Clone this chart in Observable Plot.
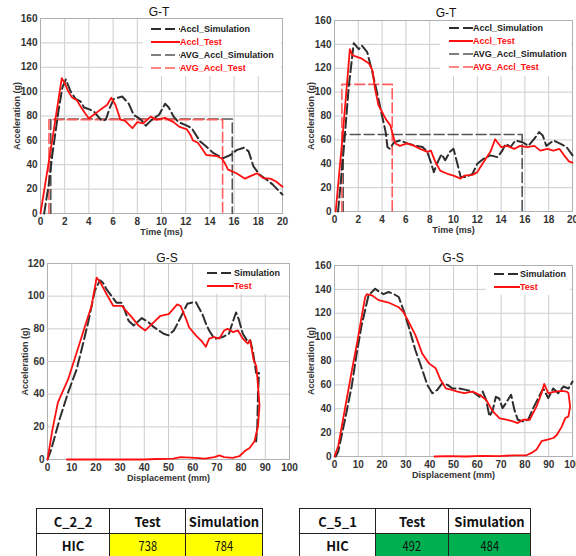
<!DOCTYPE html>
<html><head><meta charset="utf-8">
<script src="https://cdn.jsdelivr.net/npm/d3@7"></script>
<script src="https://cdn.jsdelivr.net/npm/@observablehq/plot@0.6"></script>
<style>
body{margin:0;background:#fff;}
#wrap{position:relative;width:576px;height:556px;overflow:hidden;background:#fff;font-family:"Liberation Sans",Arial,sans-serif;}
.panel{position:absolute;}
.panel svg{max-width:none !important;display:block;}
.ttl{position:absolute;font-size:12px;color:#111;transform:translate(-50%,-50%);white-space:nowrap;}
.leg{position:absolute;background:#fff;font-size:9px;font-weight:bold;}
.leg .row{position:absolute;left:0;height:12px;display:flex;align-items:center;white-space:nowrap;}
.leg svg{display:block;}
table{position:absolute;border-collapse:collapse;table-layout:fixed;font-family:"Noto Sans CJK KR","Noto Sans",sans-serif;}
td{border:1px solid #222;text-align:center;padding:0;font-size:13px;color:#111;}
td.h{font-weight:bold;}
td span{display:inline-block;transform:scaleX(.85);}
</style></head>
<body>
<div id="wrap"></div>
<script>
// ---------- data ----------
const gtTicks = [0,2,4,6,8,10,12,14,16,18,20];
const gtYTicks = [0,20,40,60,80,100,120,140,160];
const gs1YTicks = [0,20,40,60,80,100,120];
const gsTicks = [0,10,20,30,40,50,60,70,80,90,100];

// Panel 1: G-T (C_2_2)  [time ms, accel g]
const gt1Test = [[0,0],[0.5,31],[1.0,62],[1.4,88],[1.76,111],[2.0,107],[2.3,100],[2.63,95],[3.0,93],[3.3,88],[3.7,82],[4.0,78],[4.4,81],[4.8,84],[5.2,87],[5.5,89],[5.85,95],[6.2,89],[6.6,77],[7.0,76],[7.3,73],[7.6,70],[8.0,75],[8.5,74],[9.1,79.5],[9.6,77],[10.3,78.5],[11.0,75],[11.5,71],[12.1,69],[12.4,64.5],[12.6,60],[13.0,58],[13.3,54],[13.7,48],[14.2,47.5],[14.6,47],[15.0,45],[15.25,41],[15.5,36],[16.2,33],[16.9,28.6],[17.3,30.5],[17.9,33],[18.4,29],[19.0,28.6],[19.5,26],[20,22]];
const gt1Sim = [[0.3,0],[0.7,25],[1.0,50],[1.5,85],[1.8,103],[2.09,110],[2.5,100],[2.9,94],[3.3,92],[3.6,87],[3.9,86],[4.4,84],[4.8,79],[5.1,76],[5.4,77],[5.7,86],[6.06,94],[6.4,95],[6.75,96],[7.3,90],[7.7,81],[8.3,77],[8.7,72],[9.1,76],[9.5,79],[9.8,81],[10.3,90],[10.6,87],[11.0,79.5],[11.4,75],[12.0,72.5],[12.5,70],[13.2,59],[13.7,55],[14.3,49.5],[15.1,45.4],[15.7,48],[16.2,52],[16.8,54],[17.2,51],[17.6,38.6],[18.1,32],[18.7,27.7],[19.2,23.7],[20,15.5]];
const gt1AvgSimT = [0.85, 15.85], gt1AvgSimA = 77.5;
const gt1AvgTestT = [0.7, 15.05], gt1AvgTestA = 77;

// Panel 2: G-T (C_5_1)
const gt2Test = [[0.1,0],[0.7,65],[1.29,136],[1.5,131],[1.76,130],[2.3,128],[2.9,124],[3.2,118],[3.4,103],[3.7,89],[4.3,77.6],[4.7,72],[5.1,57],[5.5,55],[6.1,57],[6.7,55],[7.2,52.5],[7.8,50],[8.1,51],[8.5,41],[8.9,34],[9.5,31.6],[10,30],[10.6,27.5],[10.9,30],[11.6,30.7],[12,33],[12.5,41],[13.1,50],[13.5,60.5],[14,54],[14.5,55],[15.1,52.5],[15.6,55],[16.2,54],[16.8,55],[17.3,51],[17.9,52.5],[18.4,51],[18.9,52.5],[19.3,47],[19.7,42],[20,41]];
const gt2Sim = [[0.3,0],[0.8,55],[1.2,105],[1.62,141],[2.04,136],[2.3,139],[2.75,133.5],[3.17,117],[3.6,98.6],[4.0,80],[4.3,66.5],[4.45,54],[4.65,52.5],[5.0,58],[5.5,59.5],[6.2,56.7],[6.9,55],[7.4,54],[7.8,50],[8.1,41],[8.35,33],[8.6,40],[9.0,48],[9.3,43],[9.7,50],[10.0,52.5],[10.3,41],[10.6,29],[11.1,29],[11.6,31.6],[12.0,40],[12.5,44],[13.1,47],[13.7,45.5],[14.1,51],[14.4,56.7],[14.8,54],[15.2,59.5],[15.8,58],[16.3,55],[16.8,61],[17.2,66.5],[17.5,63.7],[17.8,55],[18.4,59.5],[19.0,56.7],[19.5,54],[20,47]];
const gt2AvgSimT = [0.73, 15.77], gt2AvgSimA = 64.5;
const gt2AvgTestT = [0.62, 4.85], gt2AvgTestA = 106.5;

// Panel 3: G-S (C_2_2) [displacement mm, accel g]
const gs1Test = [[0,0],[2,18],[4.3,35],[8.5,49],[12.6,68],[16,84],[18.2,94],[20.3,111.4],[22,108],[24.5,101],[27.2,94],[30.7,94],[32.5,91],[34.9,87],[37.6,82],[40.4,79],[43.2,83],[46.7,88],[50.1,89],[53.6,95],[55,94],[57,87],[58.5,81],[61.3,76],[64,72],[65.4,69],[66.8,74],[68.9,75],[71,74],[73,79],[74.4,80],[76.7,78],[78.7,79],[80.7,74],[82.8,71],[83.75,73],[85.1,61.5],[86.3,57],[87,45],[87.6,33],[87,20.5],[85.5,11],[83.5,7],[81.4,5],[79.3,2],[76.5,1],[73,1.5],[71,2.5],[69,1.5],[65,0.5],[61,1],[55,1.5],[52,0.5],[45,0.3],[40,0],[20,0],[8,0]];
const gs1Sim = [[0,0],[1.5,6],[5,24.6],[8.5,41],[12,55],[14.7,71],[16.8,84],[19.6,103.6],[21.7,109.7],[23,108],[24.5,104],[26.5,100],[28.5,96],[30.7,96],[32,91],[33.5,85],[35.6,82],[37,84],[39,86.6],[41.8,84],[44,81],[46,79],[48,77],[50,76],[52.2,79],[54,84],[55.7,89],[57.8,95.4],[59.5,96],[61.3,96.4],[62.5,93],[64,89],[65.5,83],[66.8,79],[68.5,75],[69.6,74],[72.4,75],[75,77],[76.5,84],[77.9,90],[79,86],[80.7,77],[82.8,72],[83.75,73],[84.9,66],[86.2,53],[87.4,53],[87,41],[86.7,20.5],[86.2,11]];

// Panel 4: G-S (C_5_1)
const gs2Test = [[0,0],[1.6,9],[4.4,40],[7.2,71],[9.3,93],[11.4,117],[12.9,133.6],[13.6,136],[15.7,135],[18.5,131],[22.7,129],[27,125],[29,121],[31.2,112.8],[34,101.7],[36.9,86],[39.7,78],[42.5,74],[44.6,64],[46.8,57],[48.9,56],[51.7,54.4],[54.5,53],[58,54.4],[60.9,51.7],[63.7,47.5],[66.5,37.8],[69.4,32],[72.2,30.8],[75,29.4],[77,28],[79.2,30.8],[82,30.8],[84.9,42],[87,53],[88.1,60.8],[89.8,53],[92.7,54.4],[95.5,55],[97.6,54.4],[98.3,53],[99,42],[98.3,33.6],[96.9,32],[95.5,25],[93.4,18],[92,15.5],[89.1,14],[87,12.8],[84.9,5.8],[82.8,3],[80.6,1],[75,1],[69.4,0.3],[62,0.5],[55,0],[48,0.3],[42,0]];
const gs2Sim = [[0.5,0],[1.6,4.4],[4.4,30.8],[7.2,58.6],[9.3,86],[11.4,110],[14.3,135],[17.1,140.5],[18.8,138],[20.6,136],[22.7,137.8],[25,136],[27,133.6],[29,122.5],[31.2,108.6],[34,89],[36.9,72.5],[39,60],[41.1,53],[43.2,55.8],[45.3,61.4],[47.5,60],[49.6,57],[52.4,57],[55.2,55.8],[58,54.4],[60.9,50],[62.3,54.4],[63.7,47.5],[65.1,33.6],[66.5,39],[67.8,50],[69.2,48.6],[70.6,40.5],[72,44.7],[74.2,51.7],[75.6,39],[77,30.8],[79.2,29.4],[81.4,30.8],[83.5,40.5],[85.6,48.9],[87.7,57],[89.8,48.9],[91.9,57],[94,53],[96.2,58.6],[98.3,57],[100,62.8]];

// Tables
const tableNames = ["C_2_2", "C_5_1"];
const tableHeads = ["Test", "Simulation"];
const hicTest = [738, 492];
const hicSim = [784, 484];

// ---------- styles ----------
const RED = "#ff1010", RED_AVG = "#ff5c5c", SIM = "#2e2e2e", SIM_AVG = "#555";
const DASH = "10,4";

const wrap = document.getElementById("wrap");

function avgBox(t, a) {
  return [[t[0],0],[t[0],a],[t[1],a],[t[1],0]];
}

function chart(o) {
  const marks = [
    Plot.gridX(o.xt, {stroke: "#cdcdcd", strokeOpacity: 1}),
    Plot.gridY(o.yt, {stroke: "#cdcdcd", strokeOpacity: 1}),
    Plot.frame({stroke: "#b0b0b0"})
  ];
  for (const s of o.series) {
    marks.push(Plot.line(s.data, {x: d => d[0], y: d => d[1], stroke: s.color, strokeWidth: s.w, strokeDasharray: s.dash || null, curve: "linear"}));
  }
  const p = Plot.plot({
    width: o.w, height: o.h,
    marginLeft: o.ml, marginRight: o.mr, marginTop: o.mt, marginBottom: o.mb,
    style: {fontFamily: "Liberation Sans, Arial, sans-serif", fontSize: "10px", fontWeight: "bold", color: "#333", background: "transparent", overflow: "visible"},
    x: {domain: o.xd, ticks: o.xt, tickSize: 0, tickPadding: 4, label: o.xl, labelArrow: "none", labelAnchor: "center", labelOffset: o.xlo},
    y: {domain: o.yd, ticks: o.yt, tickSize: 0, tickPadding: 3, label: "Acceleration (g)", labelArrow: "none", labelAnchor: "center", labelOffset: o.ylo},
    marks
  });
  const labs = d3.select(p).selectAll('[aria-label="x-axis label"], [aria-label="y-axis label"]');
  labs.style("font-size", "9px");
  labs.selectAll("text").each(function() { this.textContent = this.textContent.replace(/[\u2190-\u2193]/g, "").trim(); });
  p.style.maxWidth = "none";
  const div = document.createElement("div");
  div.className = "panel";
  div.style.left = o.left + "px";
  div.style.top = o.top + "px";
  div.style.width = o.w + "px";
  div.style.height = o.h + "px";
  div.appendChild(p);
  wrap.appendChild(div);

  const t = document.createElement("div");
  t.className = "ttl";
  t.textContent = o.title;
  t.style.left = o.tx + "px";
  t.style.top = o.ty + "px";
  wrap.appendChild(t);

  const lg = document.createElement("div");
  lg.className = "leg";
  Object.assign(lg.style, {left: o.lg.x + "px", top: o.lg.y + "px", width: o.lg.w + "px", height: o.lg.h + "px"});
  o.lg.items.forEach((it, i) => {
    const r = document.createElement("div");
    r.className = "row";
    r.style.top = o.lg.rows[i] + "px";
    r.style.left = o.lg.off + "px";
    r.innerHTML = `<svg width="${o.lg.lw}" height="12"><line x1="0" x2="${o.lg.lw}" y1="6" y2="6" stroke="${it.color}" stroke-width="${it.w}" ${it.dash ? `stroke-dasharray="${it.dash}"` : ""}/></svg><span style="color:${it.tc}">${it.label}</span>`;
    lg.appendChild(r);
  });
  wrap.appendChild(lg);
}

const simS = d => ({data: d, color: SIM, w: 2, dash: DASH});
const testS = d => ({data: d, color: RED, w: 1.8});
const avgSimS = d => ({data: d, color: SIM_AVG, w: 1.6, dash: DASH});
const avgTestS = d => ({data: d, color: RED_AVG, w: 1.6, dash: DASH});

const gtLegend = [
  {label: "Accl_Simulation", color: SIM, w: 2, dash: "10,4", tc: "#222"},
  {label: "Accl_Test", color: RED, w: 2, tc: RED},
  {label: "AVG_Accl_Simulation", color: SIM_AVG, w: 1.6, dash: "10,4", tc: "#222"},
  {label: "AVG_Accl_Test", color: RED_AVG, w: 1.6, dash: "10,4", tc: RED}
];
const gsLegend = [
  {label: "Simulation", color: SIM, w: 2, dash: "10,4", tc: "#222"},
  {label: "Test", color: RED, w: 2, tc: RED}
];

chart({left: 0, top: 0, w: 290, h: 240, ml: 40, mr: 8, mt: 18, mb: 27,
  xd: [0,20], xt: gtTicks, yd: [0,160], yt: gtYTicks, xl: "Time (ms)", xlo: 21, ylo: 27,
  title: "G-T", tx: 159, ty: 12,
  series: [avgSimS(avgBox(gt1AvgSimT, gt1AvgSimA)), avgTestS(avgBox(gt1AvgTestT, gt1AvgTestA)), simS(gt1Sim), testS(gt1Test)],
  lg: {x: 143, y: 19, w: 138, h: 57, off: 8, lw: 29, rows: [4,17,30,43], items: gtLegend}});

chart({left: 290, top: 0, w: 300, h: 240, ml: 44, mr: 18, mt: 20, mb: 29,
  xd: [0,20], xt: gtTicks, yd: [0,160], yt: gtYTicks, xl: "Time (ms)", xlo: 21, ylo: 27,
  title: "G-T", tx: 446, ty: 13,
  series: [avgSimS(avgBox(gt2AvgSimT, gt2AvgSimA)), avgTestS(avgBox(gt2AvgTestT, gt2AvgTestA)), simS(gt2Sim), testS(gt2Test)],
  lg: {x: 440, y: 21, w: 131, h: 55, off: 9, lw: 24, rows: [1,14,27,40], items: gtLegend}});

chart({left: 0, top: 245, w: 300, h: 235, ml: 47, mr: 11, mt: 18, mb: 21,
  xd: [0,100], xt: gsTicks, yd: [0,120], yt: gs1YTicks, xl: "Displacement (mm)", xlo: 21, ylo: 26,
  title: "G-S", tx: 167, ty: 258,
  series: [simS(gs1Sim), testS(gs1Test)],
  lg: {x: 200, y: 264, w: 86, h: 30, off: 7, lw: 27, rows: [3,16], items: gsLegend}});

chart({left: 296, top: 245, w: 300, h: 235, ml: 38, mr: 24, mt: 20, mb: 24,
  xd: [0,100], xt: gsTicks, yd: [0,160], yt: gtYTicks, xl: "Displacement (mm)", xlo: 21, ylo: 27,
  title: "G-S", tx: 453, ty: 258,
  series: [simS(gs2Sim), testS(gs2Test)],
  lg: {x: 486, y: 266, w: 84, h: 29, off: 8, lw: 26, rows: [2,15], items: gsLegend}});

// tables
const tblPos = [{x: 36, cols: [73,76,77]}, {x: 299, cols: [76,73,82]}];
const tblFill = ["#ffff00", "#00b050"];
tableNames.forEach((name, i) => {
  const tb = document.createElement("table");
  tb.style.left = tblPos[i].x + "px";
  tb.style.top = "508px";
  const cw = tblPos[i].cols;
  tb.style.width = cw.reduce((a,b)=>a+b,0) + "px";
  tb.innerHTML = `<colgroup>${cw.map(w=>`<col style="width:${w}px">`).join("")}</colgroup>
    <tr style="height:25px"><td class="h">${name}</td><td class="h">${tableHeads[0]}</td><td class="h">${tableHeads[1]}</td></tr>
    <tr style="height:24px"><td class="h">HIC</td><td style="background:${tblFill[i]}"><span>${hicTest[i]}</span></td><td style="background:${tblFill[i]}"><span>${hicSim[i]}</span></td></tr>`;
  wrap.appendChild(tb);
});
</script>
</body></html>
